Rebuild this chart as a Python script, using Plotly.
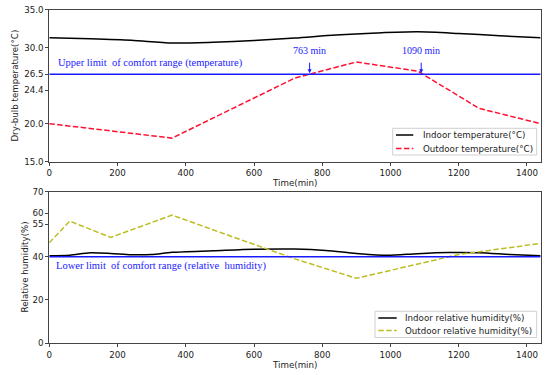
import plotly.graph_objects as go

# ---------------- data ----------------
t_temp_in = [0, 120, 240, 360, 480, 600, 720, 840, 960, 1080, 1200, 1320, 1440]
temp_in = [31.3, 31.15, 30.95, 30.6, 30.7, 30.92, 31.25, 31.65, 31.92, 32.07, 31.85, 31.55, 31.3]

t_temp_out = [0, 360, 720, 900, 1080, 1260, 1440]
temp_out = [20.0, 18.1, 26.0, 28.1, 26.9, 22.0, 20.0]

t_rh_in = [0, 60, 120, 180, 240, 300, 360, 480, 600, 720, 810, 900, 990, 1080, 1170, 1260, 1350, 1440]
rh_in = [40.4, 40.7, 41.8, 41.5, 40.9, 41.0, 42.0, 42.7, 43.4, 43.5, 42.9, 41.5, 40.6, 41.4, 41.9, 41.8, 41.0, 40.4]

t_rh_out = [0, 60, 180, 360, 540, 720, 900, 1200, 1440]
rh_out = [46.4, 56.4, 48.9, 59.2, 49.0, 39.0, 30.0, 41.0, 46.1]

temp_limit = 26.5
rh_limit = 40
cross_times = [763, 1090]

temp_ticks = [15, 20, 24.4, 26.5, 30, 35]
temp_ticktext = ["15.0", "20.0", "24.4", "26.5", "30.0", "35.0"]
rh_ticks = [0, 20, 40, 55, 60, 70]
x_ticks = [0, 200, 400, 600, 800, 1000, 1200, 1400]

names_top = ["Indoor temperature(°C)", "Outdoor temperature(°C)"]
names_bot = ["Indoor relative humidity(%)", "Outdoor relative humidity(%)"]

# ---------------- figure ----------------
W, H = 550, 375
TXT = "#222222"
BLUE = "#1a1aff"
RED = "#ff1030"
OLIVE = "#bcbd22"
DASH = "5.5px,2.4px"
FONT = "DejaVu Sans"
SERIF = "Liberation Serif"


def px(x):
    return x / W


def py(y):
    return 1 - y / H


fig = go.Figure()

fig.add_trace(go.Scatter(x=t_temp_in, y=temp_in, mode="lines", name=names_top[0],
                         line=dict(color="black", width=1.5, shape="spline", smoothing=0.8),
                         xaxis="x", yaxis="y"))
fig.add_trace(go.Scatter(x=t_temp_out, y=temp_out, mode="lines", name=names_top[1],
                         line=dict(color=RED, width=1.5, dash=DASH),
                         xaxis="x", yaxis="y"))
fig.add_trace(go.Scatter(x=t_rh_in, y=rh_in, mode="lines", name=names_bot[0],
                         line=dict(color="black", width=1.5, shape="spline", smoothing=0.8),
                         xaxis="x2", yaxis="y2"))
fig.add_trace(go.Scatter(x=t_rh_out, y=rh_out, mode="lines", name=names_bot[1],
                         line=dict(color=OLIVE, width=1.5, dash=DASH),
                         xaxis="x2", yaxis="y2"))

# comfort limit lines
fig.add_trace(go.Scatter(x=[0, 1440], y=[temp_limit, temp_limit], mode="lines",
                         line=dict(color=BLUE, width=1.5), xaxis="x", yaxis="y"))
fig.add_trace(go.Scatter(x=[0, 1440], y=[rh_limit, rh_limit], mode="lines",
                         line=dict(color=BLUE, width=1.5), xaxis="x2", yaxis="y2"))

x0, x1 = px(49.3), px(540.6)
top_dom = [py(161.7), py(9.5)]
bot_dom = [py(343.3), py(191.7)]

axis_common = dict(showgrid=False, zeroline=False, showline=True, mirror=True,
                   linecolor="#444444", linewidth=1, ticks="outside", ticklen=3,
                   tickcolor="#444444", tickfont=dict(family=FONT, size=8.7, color=TXT),
                   automargin=False)

annotations = []
for ct in cross_times:
    annotations.append(dict(x=ct, y=temp_limit, xref="x", yref="y", text="", showarrow=True,
                            ax=0, ay=-13, arrowhead=2, arrowsize=0.8, arrowwidth=1,
                            arrowcolor=BLUE, standoff=1))
    annotations.append(dict(x=ct, y=temp_limit, xref="x", yref="y", text=f"{ct} min",
                            showarrow=False, yshift=24,
                            font=dict(family=SERIF, size=10, color=BLUE)))
annotations += [
    dict(x=20, y=28.0, xref="x", yref="y", text="Upper limit  of comfort range (temperature)",
         showarrow=False, xanchor="left", yanchor="middle",
         font=dict(family=SERIF, size=10.5, color=BLUE)),
    dict(x=14, y=35.5, xref="x2", yref="y2", text="Lower limit  of comfort range (relative  humidity)",
         showarrow=False, xanchor="left", yanchor="middle",
         font=dict(family=SERIF, size=10.5, color=BLUE)),
    dict(x=(x0 + x1) / 2, y=py(182.7), xref="paper", yref="paper", text="Time(min)",
         showarrow=False, xanchor="center", yanchor="middle",
         font=dict(family=FONT, size=8.7, color=TXT)),
    dict(x=(x0 + x1) / 2, y=py(365), xref="paper", yref="paper", text="Time(min)",
         showarrow=False, xanchor="center", yanchor="middle",
         font=dict(family=FONT, size=8.7, color=TXT)),
    dict(x=px(15), y=py(85.6), xref="paper", yref="paper", text="Dry-bulb temperature(°C)",
         showarrow=False, textangle=-90, xanchor="center", yanchor="middle",
         font=dict(family=FONT, size=8.7, color=TXT)),
    dict(x=px(24), y=py(267.5), xref="paper", yref="paper", text="Relative humidity(%)",
         showarrow=False, textangle=-90, xanchor="center", yanchor="middle",
         font=dict(family=FONT, size=8.7, color=TXT)),
]

# compact matplotlib-style legends (box + sample lines + labels)
shapes = []
legend_specs = [
    ((392.7, 128.3, 536.7, 155.0), (396.0, 413.3), 420.7, (135.0, 148.6), names_top,
     ["black", RED], ["solid", DASH]),
    ((375.0, 311.3, 536.7, 337.5), (378.3, 396.7), 403.3, (318.0, 330.5), names_bot,
     ["black", OLIVE], ["solid", DASH]),
]
for box, (sx0, sx1), tx, rows, names, cols, dashes in legend_specs:
    shapes.append(dict(type="rect", xref="paper", yref="paper",
                       x0=px(box[0]), x1=px(box[2]), y0=py(box[3]), y1=py(box[1]),
                       line=dict(color="#d0d0d0", width=1), fillcolor="white", layer="above"))
    for ry, nm, c, d in zip(rows, names, cols, dashes):
        shapes.append(dict(type="line", xref="paper", yref="paper",
                           x0=px(sx0), x1=px(sx1), y0=py(ry), y1=py(ry),
                           line=dict(color=c, width=1.5, dash=d), layer="above"))
        annotations.append(dict(x=px(tx), y=py(ry), xref="paper", yref="paper", text=nm,
                                showarrow=False, xanchor="left", yanchor="middle",
                                font=dict(family=FONT, size=8.7, color=TXT)))

fig.update_layout(
    width=W, height=H,
    margin=dict(l=0, r=0, t=0, b=0),
    paper_bgcolor="white", plot_bgcolor="white",
    xaxis=dict(domain=[x0, x1], range=[0, 1440], tickvals=x_ticks, anchor="y", **axis_common),
    yaxis=dict(domain=top_dom, range=[15, 35], tickvals=temp_ticks, ticktext=temp_ticktext,
               anchor="x", **axis_common),
    xaxis2=dict(domain=[x0, x1], range=[0, 1440], tickvals=x_ticks, anchor="y2", **axis_common),
    yaxis2=dict(domain=bot_dom, range=[0, 70], tickvals=rh_ticks, anchor="x2", **axis_common),
    annotations=annotations,
    shapes=shapes,
    showlegend=False,
)

fig.write_html("out.html", config={"displayModeBar": False},
               post_script="document.body.style.margin='0';document.body.style.padding='0';")
